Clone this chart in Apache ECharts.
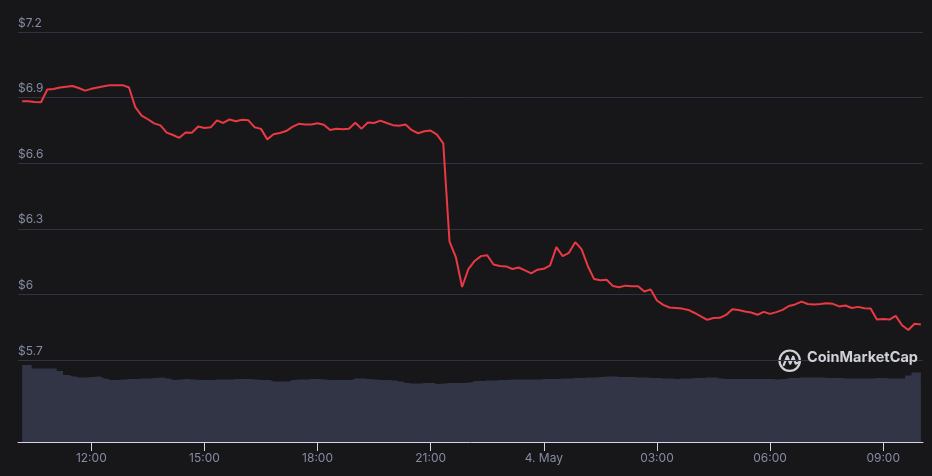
<!DOCTYPE html>
<html>
<head>
<meta charset="utf-8">
<script src="https://cdn.jsdelivr.net/npm/echarts@6/dist/echarts.min.js"></script>
<style>
html,body{margin:0;padding:0;background:#17171a;}
#chart{width:932px;height:476px;}
</style>
</head>
<body>
<div id="chart"></div>
<script>
// Time is in hours counted from 3 May 00:00; one reading every 10 minutes from 10:10.
const startHour = 10 + 10 / 60;
const stepHours = 10 / 60;
const axisMinHour = 10.056;
const axisMaxHour = 34.056;

const prices = [
  6.883, 6.883, 6.880, 6.879, 6.937, 6.939, 6.946, 6.950, 6.953, 6.944,
  6.932, 6.940, 6.946, 6.952, 6.957, 6.957, 6.957, 6.946, 6.856, 6.818,
  6.801, 6.782, 6.773, 6.740, 6.729, 6.716, 6.740, 6.739, 6.768, 6.761,
  6.764, 6.796, 6.784, 6.800, 6.792, 6.799, 6.796, 6.764, 6.757, 6.709,
  6.732, 6.738, 6.747, 6.766, 6.780, 6.777, 6.777, 6.783, 6.776, 6.752,
  6.758, 6.755, 6.758, 6.785, 6.758, 6.786, 6.784, 6.795, 6.784, 6.774,
  6.771, 6.777, 6.751, 6.737, 6.746, 6.749, 6.731, 6.691, 6.241, 6.171,
  6.034, 6.116, 6.153, 6.175, 6.179, 6.137, 6.130, 6.128, 6.116, 6.123,
  6.110, 6.096, 6.113, 6.117, 6.133, 6.216, 6.175, 6.190, 6.239, 6.207,
  6.130, 6.070, 6.065, 6.067, 6.038, 6.033, 6.040, 6.037, 6.037, 6.013,
  6.023, 5.972, 5.952, 5.940, 5.938, 5.935, 5.929, 5.915, 5.900, 5.884,
  5.892, 5.893, 5.906, 5.932, 5.929, 5.922, 5.917, 5.907, 5.920, 5.911,
  5.919, 5.929, 5.947, 5.954, 5.967, 5.956, 5.954, 5.956, 5.960, 5.957,
  5.945, 5.949, 5.938, 5.943, 5.937, 5.935, 5.885, 5.888, 5.885, 5.902,
  5.859, 5.837, 5.866, 5.862
];

// 24h volume, millions of USD
const volumes = [
  15.4, 15.4, 14.7, 14.7, 14.7, 14.7, 14.2, 13.4, 13.1, 12.9,
  12.9, 13.0, 13.1, 12.7, 12.4, 12.4, 12.5, 12.6, 12.6, 12.7,
  12.7, 12.8, 12.9, 12.7, 12.4, 12.5, 12.6, 12.5, 12.4, 12.4,
  12.4, 12.5, 12.5, 12.5, 12.6, 12.6, 12.6, 12.5, 12.4, 12.4,
  12.1, 12.1, 12.1, 12.4, 12.5, 12.5, 12.6, 12.6, 12.5, 12.4,
  12.4, 12.4, 12.4, 12.7, 12.7, 12.6, 12.5, 12.4, 12.4, 12.3,
  12.1, 11.8, 11.7, 11.7, 11.8, 11.8, 11.6, 11.7, 11.8, 11.8,
  11.8, 11.9, 12.2, 12.2, 12.3, 12.3, 12.4, 12.4, 12.5, 12.5,
  12.5, 12.5, 12.5, 12.6, 12.6, 12.6, 12.7, 12.7, 12.8, 12.8,
  12.9, 12.9, 13.0, 13.1, 13.1, 13.0, 13.0, 13.0, 12.9, 12.9,
  12.8, 12.8, 12.7, 12.7, 12.6, 12.7, 12.7, 12.8, 12.8, 12.9,
  12.9, 12.7, 12.6, 12.6, 12.6, 12.6, 12.6, 12.6, 12.6, 12.6,
  12.5, 12.6, 12.8, 12.8, 12.9, 12.9, 12.9, 12.9, 12.8, 12.8,
  12.8, 12.7, 12.7, 12.7, 12.7, 12.7, 12.8, 12.8, 12.7, 12.7,
  12.7, 13.3, 13.9, 13.9
];

const xTickHours = [12, 15, 18, 21, 24, 27, 30, 33];
const xTickLabels = ['12:00', '15:00', '18:00', '21:00', '4. May', '03:00', '06:00', '09:00'];

const priceMin = 5.7, priceMax = 7.2, priceStep = 0.3;
const volumeMax = 16.4;

const priceData = prices.map((v, i) => [startHour + i * stepHours, v]);
const volumeData = volumes.map((v, i) => [startHour + i * stepHours, v]);

const labelColor = '#858ca2';
const chart = echarts.init(document.getElementById('chart'), null, {renderer: 'canvas'});
chart.setOption({
  backgroundColor: '#17171a',
  animation: false,
  grid: [
    {left: 18, right: 9, top: 32, height: 328},
    {left: 18, right: 9, top: 360, height: 82}
  ],
  xAxis: [
    {type: 'value', gridIndex: 0, min: axisMinHour, max: axisMaxHour, show: false},
    {
      type: 'value', gridIndex: 1, min: axisMinHour, max: axisMaxHour,
      splitLine: {show: false},
      axisLine: {show: true, lineStyle: {color: '#cfd6e4', width: 1}},
      axisTick: {show: true, customValues: xTickHours, length: 9, lineStyle: {color: '#cfd6e4'}},
      axisLabel: {
        customValues: xTickHours,
        color: labelColor, fontSize: 12, margin: 10, fontFamily: 'Inter, sans-serif',
        formatter: v => {
          const k = xTickHours.findIndex(h => Math.abs(h - v) < 1e-6);
          return k >= 0 ? xTickLabels[k] : '';
        }
      }
    }
  ],
  yAxis: [
    {
      type: 'value', gridIndex: 0, min: priceMin, max: priceMax, interval: priceStep,
      position: 'left',
      axisLine: {show: false}, axisTick: {show: false},
      splitLine: {show: true, lineStyle: {color: '#2e3242', width: 1}},
      axisLabel: {
        inside: true, margin: 0, verticalAlign: 'bottom', padding: [0, 0, 3, 0],
        color: labelColor, fontSize: 12, fontFamily: 'Inter, sans-serif',
        formatter: v => '$' + parseFloat(v.toFixed(1))
      }
    },
    {type: 'value', gridIndex: 1, min: 0, max: volumeMax, show: false}
  ],
  graphic: [
    {
      type: 'group', left: 777, top: 348, z: 100,
      children: [
        {type: 'circle', shape: {cx: 11, cy: 11, r: 10.2}, style: {fill: 'none', stroke: '#cfd1d7', lineWidth: 2.2}},
        {type: 'polyline', shape: {points: [[5, 15.5], [8.5, 6.5], [11.5, 14], [14.5, 7], [17, 14], [20.5, 12.5]]},
          style: {fill: 'none', stroke: '#cfd1d7', lineWidth: 2.2, lineJoin: 'round', lineCap: 'round'}}
      ]
    },
    {
      type: 'text', left: 807, top: 350, z: 100,
      style: {text: 'CoinMarketCap', fill: '#cfd1d7', font: 'bold 14.5px Inter, sans-serif'}
    }
  ],
  series: [
    {
      name: 'Volume', type: 'line', xAxisIndex: 1, yAxisIndex: 1,
      data: volumeData, symbol: 'none', step: 'middle',
      lineStyle: {width: 0}, areaStyle: {color: '#323546', opacity: 1}, z: 1
    },
    {
      name: 'Price', type: 'line', xAxisIndex: 0, yAxisIndex: 0,
      data: priceData, symbol: 'none',
      lineStyle: {color: '#ea3943', width: 2}, z: 3
    }
  ]
});
</script>
</body>
</html>
